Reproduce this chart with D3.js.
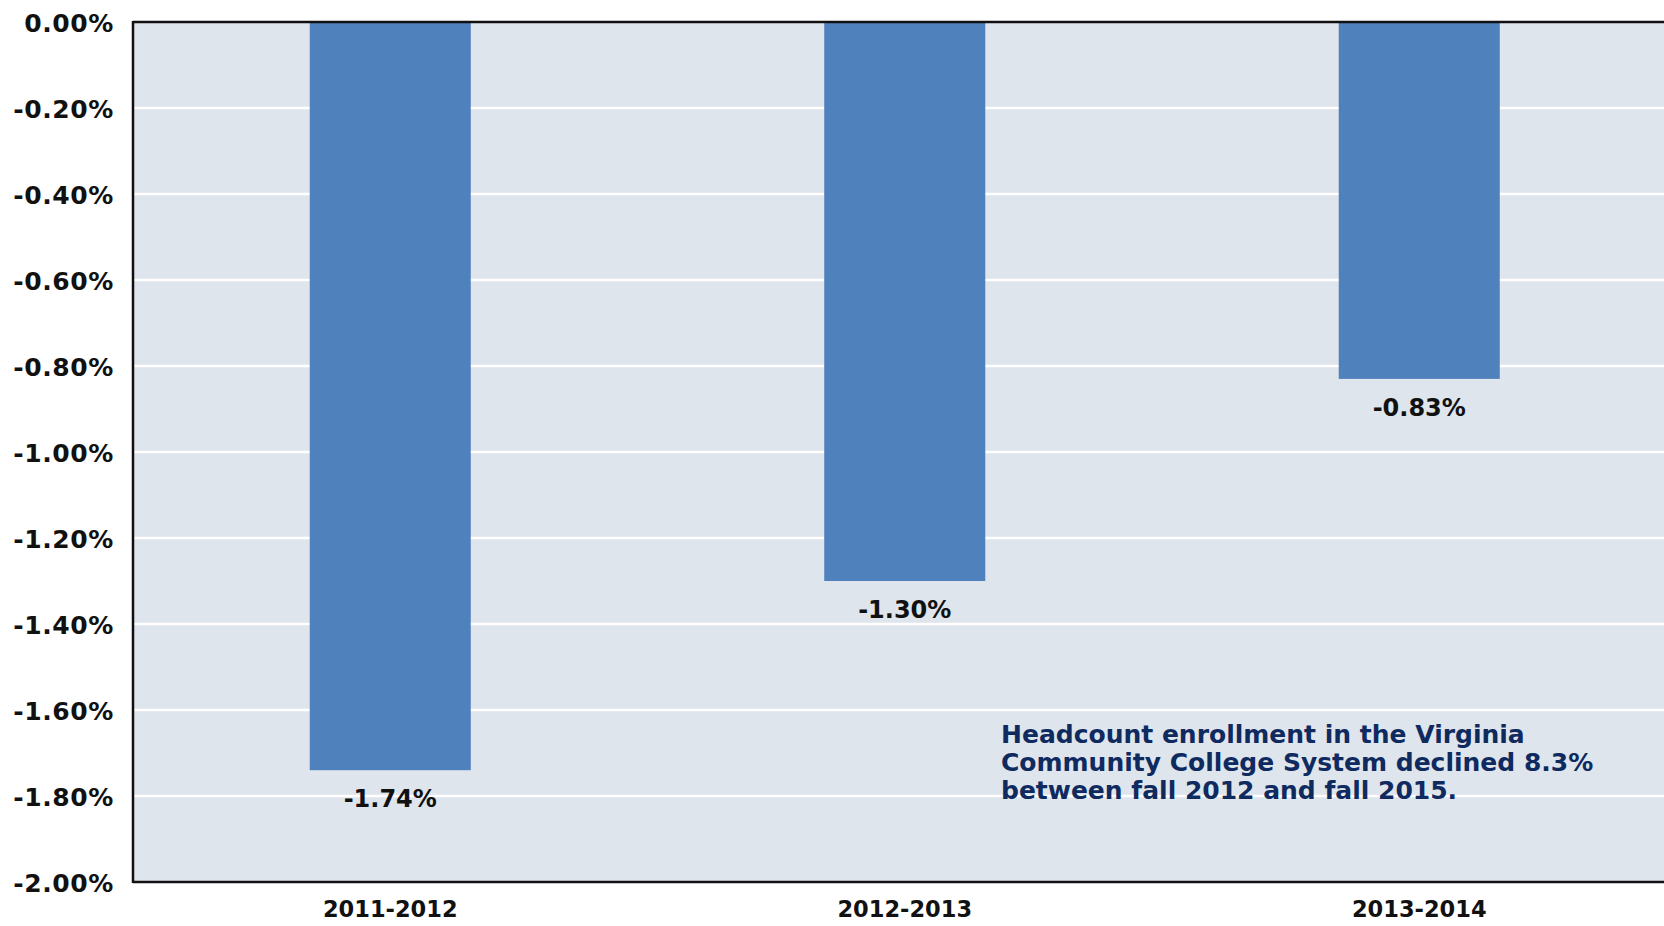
<!DOCTYPE html>
<html><head><meta charset="utf-8">
<script src="https://cdn.jsdelivr.net/npm/d3@7"></script>
<style>
html,body{margin:0;padding:0;background:#fff;}
svg{display:block;}
</style></head>
<body>
<svg id="chart" width="1664" height="926"></svg>
<script>
const categories = ["2011-2012", "2012-2013", "2013-2014"];
const values = [-1.74, -1.30, -0.83];
const yTicks = [0, -0.2, -0.4, -0.6, -0.8, -1.0, -1.2, -1.4, -1.6, -1.8, -2.0];
const noteLines = [
  "Headcount enrollment in the Virginia",
  "Community College System declined 8.3%",
  "between fall 2012 and fall 2015."
];

const W = 1664, H = 926;
const plotLeft = 133, plotTop = 22, plotBottom = 882;
const svg = d3.select("#chart");

const y = d3.scaleLinear().domain([0, -2]).range([plotTop, plotBottom]);
const step = 514.5;
const x = d3.scaleBand().domain(categories)
  .range([plotLeft, plotLeft + step * categories.length])
  .paddingInner(0.687).paddingOuter(0.3435);

const font = "'DejaVu Sans', sans-serif";

// plot background
svg.append("rect").attr("x", plotLeft).attr("y", plotTop)
  .attr("width", W - plotLeft).attr("height", plotBottom - plotTop)
  .attr("fill", "#dfe5ec");

// gridlines
svg.append("g").selectAll("line").data(yTicks.slice(1, -1)).join("line")
  .attr("x1", plotLeft).attr("x2", W)
  .attr("y1", d => y(d)).attr("y2", d => y(d))
  .attr("stroke", "#ffffff").attr("stroke-width", 2.5);

// bars
svg.append("g").selectAll("rect").data(values).join("rect")
  .attr("x", (d, i) => x(categories[i]))
  .attr("width", x.bandwidth())
  .attr("y", y(0))
  .attr("height", d => y(d) - y(0))
  .attr("fill", "#4f81bd");

// value labels
svg.append("g").selectAll("text").data(values).join("text")
  .attr("x", (d, i) => x(categories[i]) + x.bandwidth() / 2)
  .attr("y", d => y(d) + 37)
  .attr("text-anchor", "middle")
  .attr("font-family", font).attr("font-weight", "bold")
  .attr("font-size", 24).attr("fill", "#111")
  .text(d => d.toFixed(2) + "%");

// y axis
const yAxis = d3.axisLeft(y).tickValues(yTicks).tickSize(0).tickPadding(19)
  .tickFormat(d => (d === 0 ? "0.00" : d.toFixed(2)) + "%");
const gy = svg.append("g").attr("transform", `translate(${plotLeft},0)`).call(yAxis);
gy.select(".domain").remove();
gy.selectAll("text").attr("font-family", font).attr("font-weight", "bold")
  .attr("font-size", 25).attr("letter-spacing", 0.6).attr("fill", "#111").attr("dy", "0.36em");

// x axis
const xAxis = d3.axisBottom(x).tickSize(0).tickPadding(19);
const gx = svg.append("g").attr("transform", `translate(0,${plotBottom})`).call(xAxis);
gx.select(".domain").remove();
gx.selectAll("text").attr("font-family", font).attr("font-weight", "bold")
  .attr("font-size", 22.5).attr("fill", "#111");

// axis lines
svg.append("line").attr("x1", plotLeft).attr("x2", plotLeft).attr("y1", plotTop - 1).attr("y2", plotBottom + 1)
  .attr("stroke", "#111").attr("stroke-width", 2.5);
svg.append("line").attr("x1", plotLeft).attr("x2", W).attr("y1", plotBottom).attr("y2", plotBottom)
  .attr("stroke", "#111").attr("stroke-width", 2.5);
svg.append("line").attr("x1", plotLeft).attr("x2", W).attr("y1", plotTop).attr("y2", plotTop)
  .attr("stroke", "#111").attr("stroke-width", 2.5);

// annotation
const note = svg.append("text")
  .attr("font-family", font)
  .attr("font-weight", "bold").attr("font-size", 25).attr("fill", "#0e2a5f");
note.selectAll("tspan").data(noteLines).join("tspan")
  .attr("x", 1001).attr("y", (d, i) => 743 + i * 28)
  .text(d => d);
</script>
</body></html>
